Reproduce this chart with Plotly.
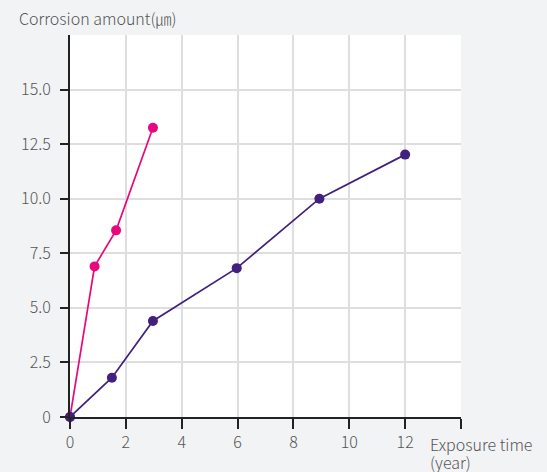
import plotly.graph_objects as go

pink_x = [0, 0.88, 1.65, 2.97]
pink_y = [0, 6.9, 8.55, 13.25]
purple_x = [0, 1.5, 2.97, 5.97, 8.93, 12]
purple_y = [0, 1.8, 4.4, 6.82, 10.0, 12.02]

x_ticks = [0, 2, 4, 6, 8, 10, 12, 14]
x_labels = ["0", "2", "4", "6", "8", "10", "12", ""]
y_ticks = [0, 2.5, 5, 7.5, 10, 12.5, 15]
y_labels = ["0", "2.5", "5.0", "7.5", "10.0", "12.5", "15.0"]

PINK = "#e8077d"
PURPLE = "#42217e"
TXT = "#555555"
FONT = "Noto Sans CJK KR"
W = 300

fig = go.Figure()
fig.add_trace(go.Scatter(x=pink_x, y=pink_y, mode="lines+markers",
                         line=dict(color=PINK, width=1.7),
                         marker=dict(color=PINK, size=10), cliponaxis=False))
fig.add_trace(go.Scatter(x=purple_x, y=purple_y, mode="lines+markers",
                         line=dict(color=PURPLE, width=1.7),
                         marker=dict(color=PURPLE, size=10), cliponaxis=False))

fig.update_layout(
    width=547, height=472,
    margin=dict(l=70, r=86, t=35, b=55),
    paper_bgcolor="#f2f3f5", plot_bgcolor="#ffffff",
    showlegend=False,
    font=dict(family=FONT, size=16, color=TXT, weight=W),
    xaxis=dict(range=[0, 14], tickvals=x_ticks, ticktext=x_labels,
               showgrid=True, gridcolor="#dedede", gridwidth=1.5,
               showline=True, linecolor="#222222", linewidth=2,
               ticks="outside", ticklen=10, tickwidth=1.5, tickcolor="#222222",
               zeroline=False, fixedrange=True),
    yaxis=dict(range=[0, 17.5], tickvals=y_ticks, ticktext=y_labels,
               showgrid=True, gridcolor="#dedede", gridwidth=1.5,
               showline=True, linecolor="#222222", linewidth=2,
               ticks="outside", ticklen=8, tickwidth=1.5, tickcolor="#222222",
               ticklabelstandoff=6,
               zeroline=False, fixedrange=True),
)

fig.add_annotation(text="Corrosion amount(㎛)", xref="paper", yref="paper",
                   x=0, y=1, xshift=-53, yshift=17, xanchor="left", yanchor="middle",
                   showarrow=False, font=dict(family=FONT, size=16, color=TXT, weight=W))
fig.add_annotation(text="Exposure time", xref="paper", yref="paper",
                   x=1, y=0, xshift=-33, yshift=-27, xanchor="left", yanchor="middle",
                   showarrow=False, font=dict(family=FONT, size=16, color=TXT, weight=W))
fig.add_annotation(text="(year)", xref="paper", yref="paper",
                   x=1, y=0, xshift=-33, yshift=-45, xanchor="left", yanchor="middle",
                   showarrow=False, font=dict(family=FONT, size=16, color=TXT, weight=W))

fig.write_html("out.html", config={"displayModeBar": False},
               post_script="document.body.style.margin='0';")
